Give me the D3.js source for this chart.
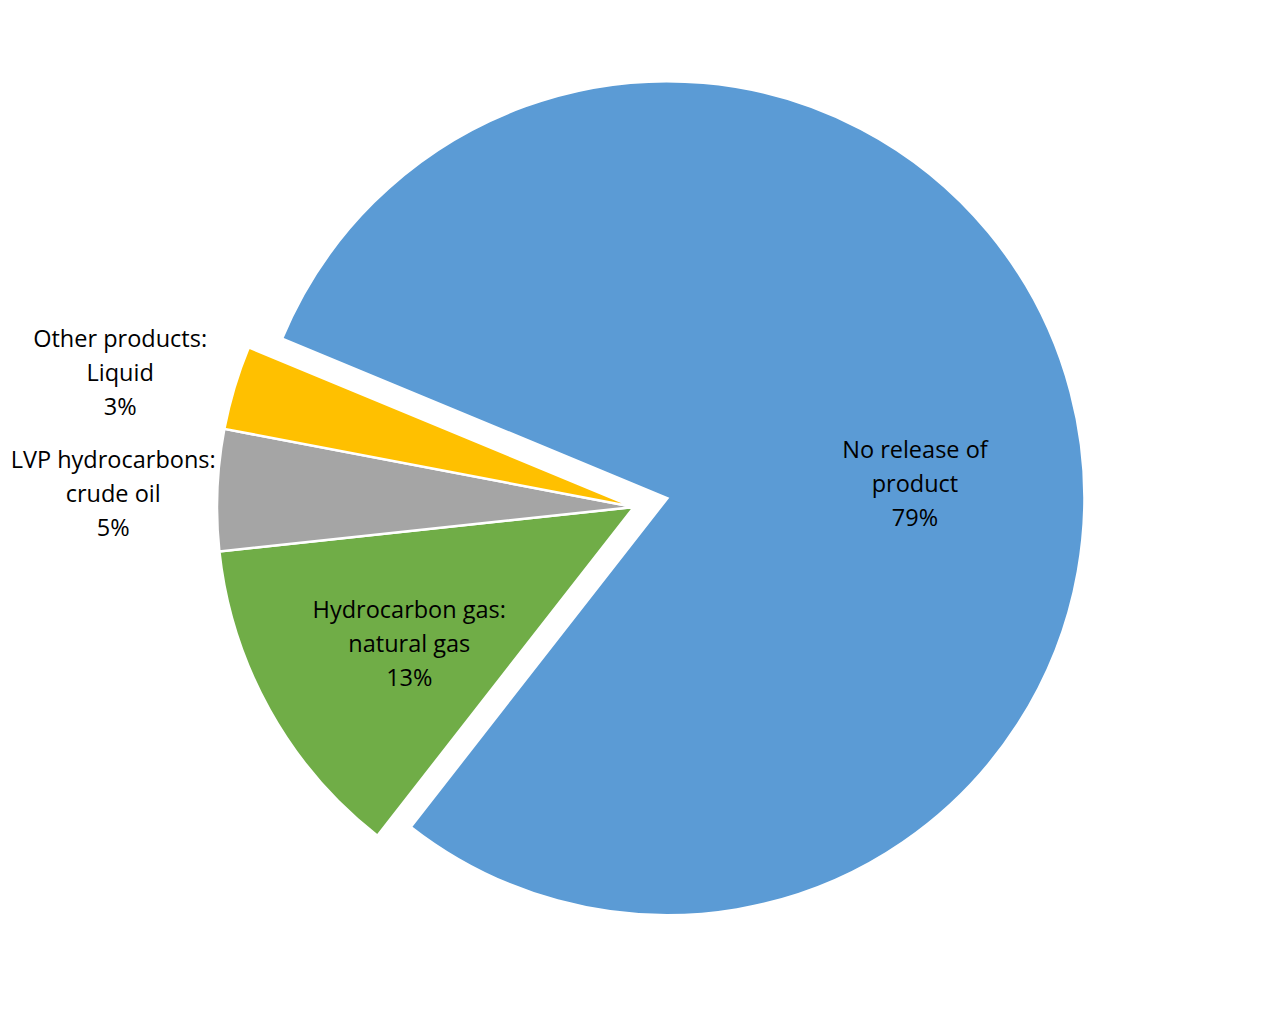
<!DOCTYPE html>
<html>
<head>
<meta charset="utf-8">
<script src="https://cdn.jsdelivr.net/npm/d3@7"></script>
<style>
  html, body { margin: 0; padding: 0; background: #fff; }
  svg { display: block; }
  text { font-family: "Open Sans", "Noto Sans", sans-serif; }
</style>
</head>
<body>
<svg id="chart" width="1268" height="1014"></svg>
<script>
// ---- data ----
const categories = ["No release of product", "Hydrocarbon gas: natural gas", "LVP hydrocarbons: crude oil", "Other products: Liquid"];
const values = [79.3, 12.75, 4.7, 3.25];
const labelLines = [["No release of", "product"], ["Hydrocarbon gas:", "natural gas"], ["LVP hydrocarbons:", "crude oil"], ["Other products:", "Liquid"]];
const colors = ["#5B9BD5", "#70AD47", "#A5A5A5", "#FFC000"];
const explode = [34.5, 0, 0, 0];

// ---- layout ----
const W = 1268, H = 1014;
const cx = 634, cy = 507, R = 417;
const startDeg = -67.5;
// label anchor: [angle in degrees (clockwise from 12 o'clock), radius] from slice centre
const labelPolar = [[86.7, 248], [238.7, 263], [271.4, 521], [284.6, 531]];
const lineGap = 34, fontSize = 23.5;

const svg = d3.select("#chart");
const g = svg.append("g").attr("transform", `translate(${cx},${cy})`);

const pie = d3.pie().sort(null).value(d => d.value)
  .startAngle(startDeg * Math.PI / 180)
  .endAngle(startDeg * Math.PI / 180 + 2 * Math.PI);
const data = categories.map((c, i) => ({ cat: c, value: values[i], i }));
const arcs = pie(data);
const total = d3.sum(values);
const arc = d3.arc().innerRadius(0).outerRadius(R);
const pct = d3.format(".0%");

function offset(a) {
  const mid = (a.startAngle + a.endAngle) / 2;
  const e = explode[a.data.i];
  return [Math.sin(mid) * e, -Math.cos(mid) * e];
}

const slices = g.selectAll("g.slice").data(arcs).join("g")
  .attr("class", "slice")
  .attr("transform", d => { const o = offset(d); return `translate(${o[0]},${o[1]})`; });

slices.append("path")
  .attr("d", arc)
  .attr("fill", d => colors[d.data.i])
  .attr("stroke", "#fff")
  .attr("stroke-width", 2.5)
  .attr("stroke-linejoin", "miter");

slices.each(function(d) {
  const i = d.data.i;
  const [deg, r] = labelPolar[i];
  const a = deg * Math.PI / 180;
  const x = Math.sin(a) * r, y = -Math.cos(a) * r + 8;
  const lines = labelLines[i].concat([pct(d.data.value / total)]);
  const t = d3.select(this).append("text")
    .attr("text-anchor", "middle")
    .attr("font-size", fontSize)
    .attr("fill", "#000");
  lines.forEach((s, k) => {
    t.append("tspan").attr("x", x).attr("y", y + (k - 1) * lineGap).text(s);
  });
});
</script>
</body>
</html>
